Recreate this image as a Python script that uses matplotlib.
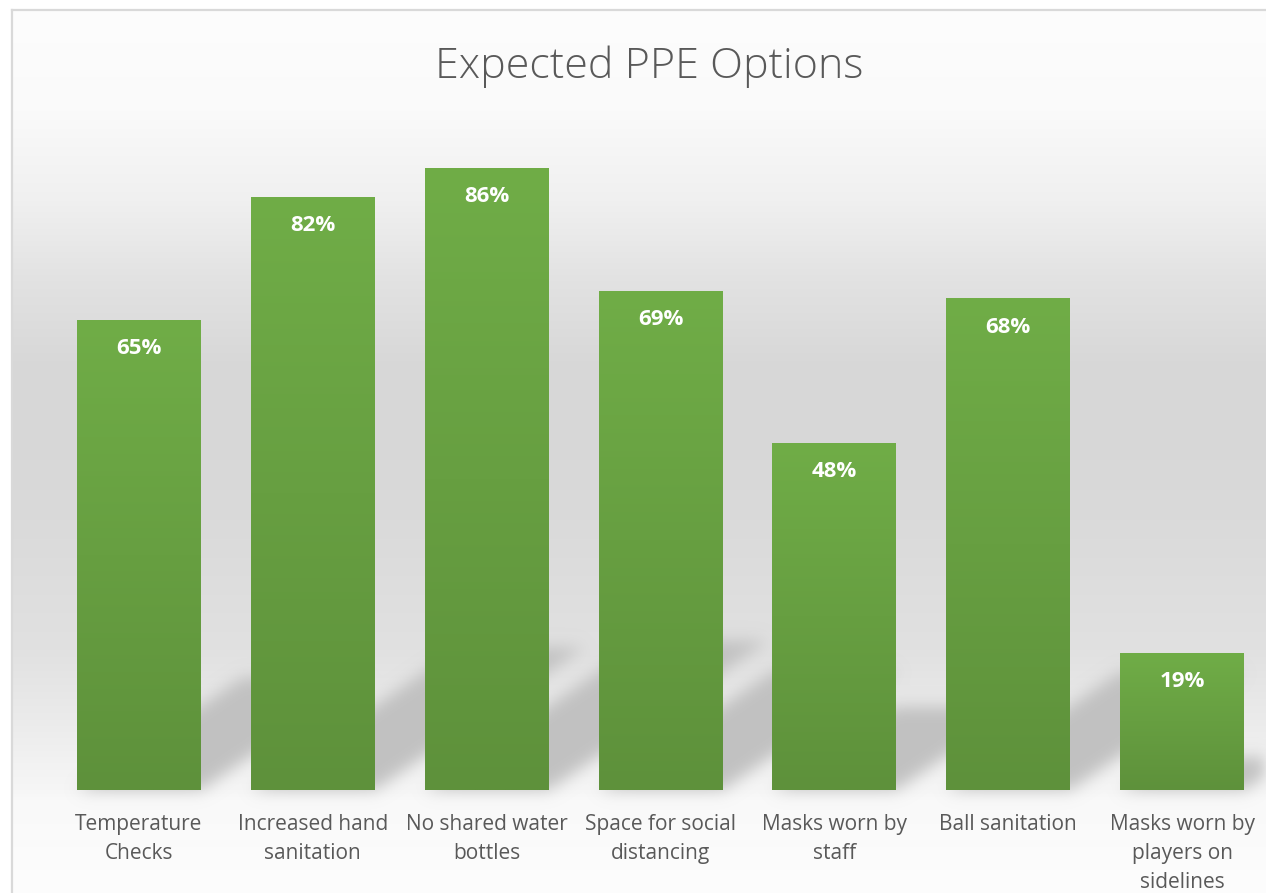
import numpy as np
import matplotlib
matplotlib.use("Agg")
import matplotlib.pyplot as plt
from matplotlib.collections import PolyCollection
from matplotlib.colors import LinearSegmentedColormap

# ---------------- data ----------------
categories = [
    "Temperature\nChecks",
    "Increased hand\nsanitation",
    "No shared water\nbottles",
    "Space for social\ndistancing",
    "Masks worn by\nstaff",
    "Ball sanitation",
    "Masks worn by\nplayers on\nsidelines",
]
values = [65, 82, 86, 69, 48, 68, 19]
title = "Expected PPE Options"

# ---------------- style ----------------
W, H = 1266, 893
DPI = 100
FONT = "Open Sans"
TEXT_COL = "#595959"
BAR_TOP = "#70AD47"
BAR_BOT = "#5E913B"
SHADOW_COL = (0.76, 0.76, 0.76)

fig = plt.figure(figsize=(W / DPI, H / DPI), dpi=DPI)

# ---- background (chart-area gradient + frame) ----
bg = fig.add_axes([0, 0, 1, 1], zorder=0)
bg.set_axis_off()
ys = np.arange(H)
stop_y = [9, 110, 200, 280, 360, 430, 520, 650, 713, 763, 790, 800, 893]
stop_v = [253, 250, 240, 226, 216, 215, 218, 225, 234, 242, 246, 249, 253]
col = np.interp(ys, stop_y, stop_v) / 255.0
img = np.repeat(col[:, None], W, axis=1)
img[:9, :] = 1.0
img[:, :11] = 1.0
bg.imshow(np.dstack([img, img, img]), extent=(0, W, H, 0), aspect="auto",
          interpolation="bilinear")
bg.plot([11.5, 11.5], [9.5, H], color="#d9d9d9", lw=1.6)
bg.plot([11.5, W], [9.5, 9.5], color="#d9d9d9", lw=1.6)
bg.set_xlim(0, W)
bg.set_ylim(H, 0)

# ---- main axes ----
ax_left, ax_right = 52, 1269
ax_bottom, ax_top = 790, 66.5
ax = fig.add_axes([ax_left / W, (H - ax_bottom) / H,
                   (ax_right - ax_left) / W, (ax_bottom - ax_top) / H], zorder=1)
ax.set_facecolor("none")
for s in ax.spines.values():
    s.set_visible(False)
x = np.arange(len(values))
ax.set_xlim(-0.5, len(values) - 0.5)
ax.set_ylim(0, 100)
ax.set_yticks([])

bar_w = 0.713
bars = ax.bar(x, values, width=bar_w, color="none", zorder=3)

# gradient fill per bar
cmap = LinearSegmentedColormap.from_list("g", [BAR_BOT, BAR_TOP])
grad = np.linspace(0, 1, 256)[:, None]
for b in bars:
    x0, y0 = b.get_x(), b.get_y()
    im = ax.imshow(grad, cmap=cmap, origin="lower", aspect="auto",
                   extent=(x0, x0 + b.get_width(), y0, y0 + b.get_height()),
                   zorder=3, interpolation="bilinear")
    im.set_clip_path(b)
ax.set_xlim(-0.5, len(values) - 0.5)
ax.set_ylim(0, 100)

# ---- perspective shadows (blurred) ----
k_h = 0.24      # shadow height relative to bar height
k_dx = 0.01468  # horizontal skew (category units per % of value)
polys = []
for xi, v in zip(x, values):
    x0 = xi - bar_w / 2
    x1 = xi + bar_w / 2
    dx = k_dx * v
    dy = k_h * v
    polys.append([(x0, 0), (x1, 0), (x1 + dx, dy), (x0 + dx, dy)])


class BlurFilter:
    def __init__(self, sigma, color):
        self.sigma = sigma
        self.color = color

    def __call__(self, im, dpi):
        sig = self.sigma
        pad = int(3 * sig) + 2
        a = np.pad(im[..., 3], pad)
        t = np.arange(-pad, pad + 1)
        kern = np.exp(-0.5 * (t / sig) ** 2)
        kern /= kern.sum()
        a = np.apply_along_axis(lambda r: np.convolve(r, kern, mode="same"), 0, a)
        a = np.apply_along_axis(lambda r: np.convolve(r, kern, mode="same"), 1, a)
        out = np.zeros(a.shape + (4,))
        out[..., 0] = self.color[0]
        out[..., 1] = self.color[1]
        out[..., 2] = self.color[2]
        out[..., 3] = np.clip(a, 0, 1)
        return out, -pad, -pad


pc = PolyCollection(polys, facecolors=[(0.5, 0.5, 0.5, 1.0)], edgecolors="none",
                    zorder=2)
pc.set_agg_filter(BlurFilter(5.5, SHADOW_COL))
pc.set_rasterized(True)
ax.add_collection(pc)

# ---- value labels ----
for xi, v in zip(x, values):
    ax.annotate(f"{v}%", xy=(xi, v), xytext=(0, -21), textcoords="offset points",
                ha="center", va="center", color="white", fontsize=16,
                fontweight="bold", family=FONT, zorder=5)

# ---- category labels ----
ax.set_xticks(x)
ax.set_xticklabels(categories, fontsize=15, color=TEXT_COL, family=FONT,
                   linespacing=1.5)
ax.tick_params(axis="x", length=0, pad=17)

# ---- title ----
fig.text(649 / W, 1 - 78 / H, title, ha="center", va="baseline",
         fontsize=31, color=TEXT_COL, family=FONT, fontweight="light")

fig.savefig("out.png", dpi=DPI)
